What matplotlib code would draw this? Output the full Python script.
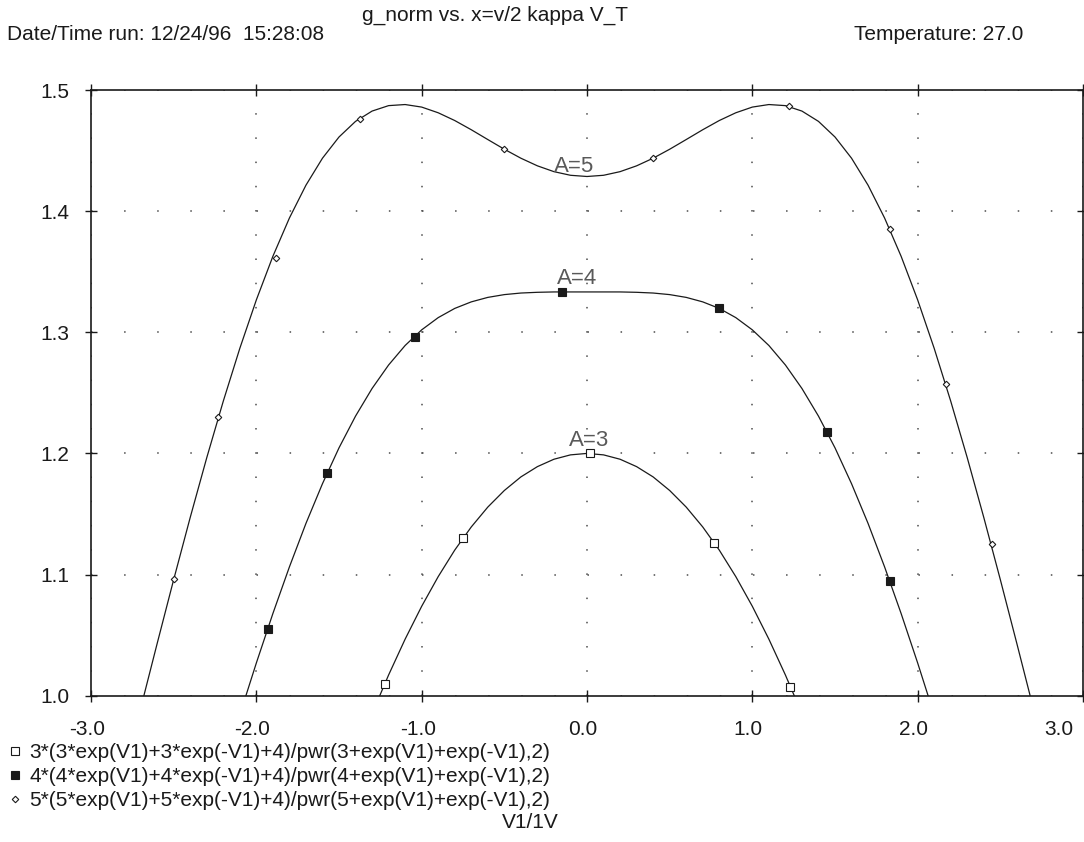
import matplotlib
matplotlib.use('Agg')
import matplotlib.pyplot as plt
import matplotlib.transforms as mtransforms

plt.rcParams['font.family'] = ['Liberation Sans', 'DejaVu Sans']
plt.rcParams['axes.unicode_minus'] = False
plt.rcParams['lines.scale_dashes'] = False

# curves (V1 in volts, g_norm)
v_a3 = [-1.3, -1.2, -1.1, -1.0, -0.9, -0.8, -0.7, -0.6, -0.5, -0.4, -0.3, -0.2, -0.1, 0.0,
        0.1, 0.2, 0.3, 0.4, 0.5, 0.6, 0.7, 0.8, 0.9, 1.0, 1.1, 1.2, 1.3]
g_a3 = [0.9852, 1.0171, 1.0467, 1.0738, 1.0983, 1.1202, 1.1393, 1.1557, 1.1694, 1.1806, 1.1891, 1.1952, 1.1988, 1.2000,
        1.1988, 1.1952, 1.1891, 1.1806, 1.1694, 1.1557, 1.1393, 1.1202, 1.0983, 1.0738, 1.0467, 1.0171, 0.9852]

v_a4 = [-2.1, -2.0, -1.9, -1.8, -1.7, -1.6, -1.5, -1.4, -1.3, -1.2, -1.1, -1.0, -0.9, -0.8, -0.7, -0.6, -0.5, -0.4,
        -0.3, -0.2, -0.1, 0.0, 0.1, 0.2, 0.3, 0.4, 0.5, 0.6, 0.7, 0.8, 0.9, 1.0, 1.1, 1.2, 1.3, 1.4, 1.5, 1.6,
        1.7, 1.8, 1.9, 2.0, 2.1]
g_a4 = [0.9842, 1.0270, 1.0678, 1.1063, 1.1422, 1.1750, 1.2046, 1.2308, 1.2536, 1.2730, 1.2891, 1.3020, 1.3121,
        1.3197, 1.3251, 1.3288, 1.3311, 1.3324, 1.3330, 1.3333, 1.3333, 1.3333, 1.3333, 1.3333, 1.3330, 1.3324,
        1.3311, 1.3288, 1.3251, 1.3197, 1.3121, 1.3020, 1.2891, 1.2730, 1.2536, 1.2308, 1.2046, 1.1750, 1.1422,
        1.1063, 1.0678, 1.0270, 0.9842]

v_a5 = [-2.7, -2.6, -2.5, -2.4, -2.3, -2.2, -2.1, -2.0, -1.9, -1.8, -1.7, -1.6, -1.5, -1.4, -1.3, -1.2, -1.1, -1.0,
        -0.9, -0.8, -0.7, -0.6, -0.5, -0.4, -0.3, -0.2, -0.1, 0.0, 0.1, 0.2, 0.3, 0.4, 0.5, 0.6, 0.7, 0.8, 0.9,
        1.0, 1.1, 1.2, 1.3, 1.4, 1.5, 1.6, 1.7, 1.8, 1.9, 2.0, 2.1, 2.2, 2.3, 2.4, 2.5, 2.6, 2.7]
g_a5 = [0.9894, 1.0430, 1.0958, 1.1471, 1.1964, 1.2431, 1.2867, 1.3267, 1.3627, 1.3943, 1.4214, 1.4437, 1.4612,
        1.4741, 1.4826, 1.4871, 1.4880, 1.4859, 1.4812, 1.4748, 1.4672, 1.4591, 1.4511, 1.4437, 1.4374, 1.4326,
        1.4296, 1.4286, 1.4296, 1.4326, 1.4374, 1.4437, 1.4511, 1.4591, 1.4672, 1.4748, 1.4812, 1.4859, 1.4880,
        1.4871, 1.4826, 1.4741, 1.4612, 1.4437, 1.4214, 1.3943, 1.3627, 1.3267, 1.2867, 1.2431, 1.1964, 1.1471,
        1.0958, 1.0430, 0.9894]

# symbol positions along each trace
mk_v3 = [-1.22, -0.75, 0.02, 0.77, 1.23]
mk_g3 = [1.010, 1.130, 1.200, 1.126, 1.007]
mk_v4 = [-1.93, -1.57, -1.04, -0.15, 0.80, 1.45, 1.83]
mk_g4 = [1.055, 1.184, 1.296, 1.333, 1.320, 1.218, 1.095]
mk_v5 = [-2.50, -2.23, -1.88, -1.37, -0.50, 0.40, 1.22, 1.83, 2.17, 2.45]
mk_g5 = [1.096, 1.230, 1.361, 1.476, 1.451, 1.444, 1.487, 1.385, 1.257, 1.125]

labels = ['3*(3*exp(V1)+3*exp(-V1)+4)/pwr(3+exp(V1)+exp(-V1),2)',
          '4*(4*exp(V1)+4*exp(-V1)+4)/pwr(4+exp(V1)+exp(-V1),2)',
          '5*(5*exp(V1)+5*exp(-V1)+4)/pwr(5+exp(V1)+exp(-V1),2)']

xticks = [-3.0, -2.0, -1.0, 0.0, 1.0, 2.0, 3.0]
yticks = [1.0, 1.1, 1.2, 1.3, 1.4, 1.5]

ink = '#1a1a1a'
fs = 15

fig = plt.figure(figsize=(10.84, 8.42), dpi=100)
ax = fig.add_axes([0.08395, 0.17375, 0.91513, 0.71936])

ax.plot(v_a3, g_a3, color=ink, lw=0.9)
ax.plot(v_a4, g_a4, color=ink, lw=0.9)
ax.plot(v_a5, g_a5, color=ink, lw=0.9)

m3, = ax.plot(mk_v3, mk_g3, ls='none', marker='s', ms=5.5, mfc='white', mec=ink, mew=0.8)
m4, = ax.plot(mk_v4, mk_g4, ls='none', marker='s', ms=5.5, mfc=ink, mec=ink, mew=0.8)
m5, = ax.plot(mk_v5, mk_g5, ls='none', marker='D', ms=3.3, mfc='white', mec=ink, mew=0.8)

ax.text(0.01, 1.206, 'A=3', ha='center', va='baseline', fontsize=16, color='0.35')
ax.text(-0.06, 1.340, 'A=4', ha='center', va='baseline', fontsize=16, color='0.35')
ax.text(-0.08, 1.432, 'A=5', ha='center', va='baseline', fontsize=16, color='0.35')

ax.set_xlim(-3.0, 3.0)
ax.set_ylim(1.0, 1.5)
ax.set_xticks(xticks)
ax.set_yticks(yticks)
ax.set_xticklabels(['%.1f' % t for t in xticks])
ax.set_yticklabels(['%.1f' % t for t in yticks])
ax.tick_params(direction='inout', length=9, width=1.0, colors=ink, labelsize=fs,
               top=True, right=True)
ax.tick_params(axis='x', pad=13)
ax.tick_params(axis='y', pad=11)
for sp in ax.spines.values():
    sp.set_color(ink)
    sp.set_linewidth(1.2)

# dotted grid, dots every 0.2 in x and 0.02 in y
ax.xaxis.grid(True, linestyle=(0, (1.1, 16.34)), color='0.3', linewidth=1.1)
ax.yaxis.grid(True, linestyle=(0, (1.1, 22.73)), color='0.3', linewidth=1.1)

shift = mtransforms.ScaledTranslation(-4 / 100, 0, fig.dpi_scale_trans)
xl = ax.get_xticklabels()
for lab in xl:
    lab.set_transform(lab.get_transform() + shift)
xl[-1].set_ha('right')
xl[-1].set_transform(xl[-1].get_transform() + mtransforms.ScaledTranslation(-6 / 100, 0, fig.dpi_scale_trans))

fig.text(495 / 1084, 1 - 15 / 842, 'g_norm vs. x=v/2 kappa V_T', ha='center', va='center', fontsize=fs, color=ink)
fig.text(7 / 1084, 1 - 35 / 842, 'Date/Time run: 12/24/96  15:28:08', ha='left', va='center', fontsize=fs, color=ink)
fig.text(1023 / 1084, 1 - 35 / 842, 'Temperature: 27.0', ha='right', va='center', fontsize=fs, color=ink)
fig.text(530 / 1084, 1 - 823 / 842, 'V1/1V', ha='center', va='center', fontsize=fs, color=ink)

fig.legend([m3, m4, m5], labels, loc='upper left', bbox_to_anchor=(8.5 / 1084, 1 - 743 / 842),
           frameon=False, fontsize=fs, handlelength=0.6, handletextpad=0.4, labelspacing=0.24,
           borderpad=0, borderaxespad=0, markerscale=1.0, labelcolor=ink)

fig.savefig('out.png', dpi=100)
